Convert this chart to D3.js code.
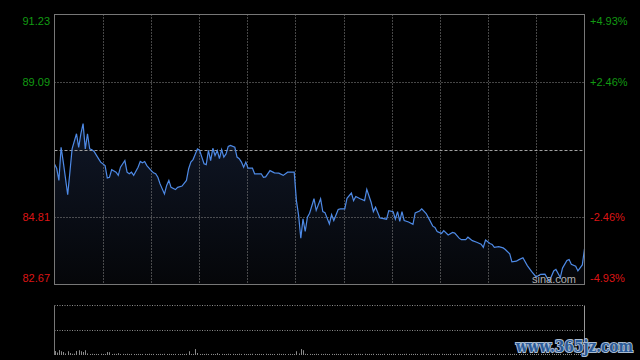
<!DOCTYPE html>
<html><head><meta charset="utf-8">
<script src="https://cdn.jsdelivr.net/npm/d3@7/dist/d3.min.js"></script>
<style>html,body{margin:0;padding:0;background:#000;overflow:hidden}</style>
</head><body><svg id="c" width="640" height="360"></svg>
<script>
// ---- data ----
const priceTicks = [91.23, 89.09, 86.95, 84.81, 82.67];
const pctLabels  = ["+4.93%", "+2.46%", "", "-2.46%", "-4.93%"];
const prevClose  = 86.95;
const totalMinutes = 241;

const minutes = [0,1,2,3,4,6,7,8,10,11,12,13,14,15,16,17,18,20,21,23,24,25,26,28,29,30,32,33,34,35,36,38,39,40,41,42,44,45,46,47,48,50,51,52,53,55,56,58,60,61,62,63,65,66,67,68,69,70,71,72,73,74,75,76,77,78,79,80,82,83,84,85,86,87,88,90,91,94,95,96,98,100,102,104,106,109,
110,111,112,113,114,115,116,118,119,121,122,123,125,126,127,129,130,132,133,135,136,137,139,141,142,144,145,146,148,151,152,154,155,156,157,158,159,161,163,164,166,167,169,170,172,173,174,176,177,179,181,182,184,185,187,188,190,192,194,195,196,198,199,200,202,204,205,207,208,210,211,213,215,217,219,221,223,224,225,227,228,230,231,233,234,235,237,238,240,241];

const prices = [86.49,86.35,85.97,87.02,86.55,85.52,86.23,86.97,87.45,87.02,87.45,87.77,86.97,87.45,86.97,86.94,86.89,86.66,86.55,86.44,86.05,86.07,86.31,86.23,86.13,86.39,86.60,86.23,86.18,86.23,86.13,86.39,86.57,86.53,86.57,86.44,86.28,86.21,86.18,86.07,85.86,85.54,85.81,85.97,85.75,85.68,85.75,85.79,85.97,86.34,86.55,86.63,86.97,86.92,86.71,86.50,86.47,86.92,86.60,86.99,86.76,86.92,86.66,86.95,86.71,86.81,87.05,87.08,87.02,86.71,86.66,86.55,86.39,86.55,86.36,86.36,86.18,86.18,86.07,86.08,86.28,86.21,86.20,86.13,86.23,86.23,
85.33,84.86,84.14,84.75,84.35,84.80,84.93,85.39,85.02,85.39,84.98,84.95,84.59,84.89,84.70,85.05,85.07,85.07,85.40,85.57,85.33,85.46,85.39,85.33,85.69,85.27,84.98,85.12,84.78,84.74,85.01,84.98,84.74,84.98,84.67,84.98,84.70,84.65,84.58,84.94,85.00,85.07,84.92,84.79,84.52,84.48,84.35,84.29,84.38,84.24,84.32,84.30,84.14,84.09,84.09,84.17,84.06,84.01,83.95,83.85,84.08,83.97,83.94,83.85,83.87,83.83,83.78,83.64,83.39,83.41,83.45,83.52,83.27,83.08,82.91,82.99,83.00,82.88,82.77,83.10,83.15,82.89,83.19,83.43,83.46,83.31,83.25,83.10,83.29,83.80];

const volumes = [
400,250,500,380,300,150,380,200,120,130,400,480,380,300,480,150,100,120,100,110,
100,120,100,110,300,280,100,120,110,180,100,110,100,120,100,110,100,100,110,100,
100,110,100,120,100,110,100,100,110,100,120,100,110,100,100,110,100,100,110,100,
120,380,100,110,600,200,100,110,100,120,100,110,100,100,180,100,110,100,100,120,
100,110,100,100,120,100,110,100,100,110,120,100,100,110,100,100,120,100,110,100,
100,110,120,100,110,100,100,110,100,100,380,150,600,480,120,100,110,100,100,120,
100,110,100,120,100,100,110,100,120,100,110,100,100,120,100,110,100,100,120,110,
100,120,100,110,100,120,100,110,100,100,120,100,110,100,120,100,110,100,100,110,
120,100,110,100,120,100,110,100,120,100,110,100,120,100,100,110,120,100,110,100,
120,100,110,100,120,110,100,120,100,110,100,120,100,110,100,120,110,100,120,100,
110,100,120,100,110,100,120,110,100,120,100,110,100,120,110,100,120,100,110,100,
120,110,100,120,100,110,120,100,110,100,120,110,100,120,100,110,120,100,110,100,
120,150];

// ---- drawing ----
const svg = d3.select("#c");
svg.append("rect").attr("width",640).attr("height",360).attr("fill","#000");

const L = 54.5, R = 584.5, T = 14.5, B = 284.5;
const VT = 305.5, VB = 355;
const x = d3.scaleLinear().domain([0,totalMinutes]).range([L,R]);
const y = d3.scaleLinear().domain([priceTicks[4], priceTicks[0]]).range([B,T]);
const gx = d3.scaleLinear().domain([0,11]).range([L,R]);
const vy = d3.scaleLinear().domain([0,5000]).range([VB,VT]);

const defs = svg.append("defs");
const grad = defs.append("linearGradient").attr("id","g").attr("gradientUnits","userSpaceOnUse")
  .attr("x1",0).attr("y1",T).attr("x2",0).attr("y2",B);
grad.append("stop").attr("offset","0%").attr("stop-color","#16223a");
grad.append("stop").attr("offset","100%").attr("stop-color","#050609");

const data = minutes.map((m,i)=>({m, p:prices[i]}));

// area
svg.append("path").datum(data)
  .attr("d", d3.area().x(d=>x(d.m)).y0(y(priceTicks[4])).y1(d=>y(d.p)))
  .attr("fill","url(#g)");

// grid verticals (main)
const gridC = "#8c8c8c";
for (let k=1;k<11;k++){
  svg.append("line").attr("x1",Math.round(gx(k))+0.5).attr("x2",Math.round(gx(k))+0.5)
    .attr("y1",T).attr("y2",B).attr("stroke",gridC).attr("stroke-dasharray","1,2");
}
// horizontals
priceTicks.forEach((v,i)=>{
  if (i===0||i===4) return;
  const yy = Math.round(y(v))+0.5;
  svg.append("line").attr("x1",L).attr("x2",R).attr("y1",yy).attr("y2",yy)
    .attr("stroke", v===prevClose ? "#a0a0a0" : gridC)
    .attr("stroke-dasharray", v===prevClose ? "3,2" : "1,2");
});

// line
svg.append("path").datum(data)
  .attr("d", d3.line().x(d=>x(d.m)).y(d=>y(d.p)))
  .attr("fill","none").attr("stroke","#4e8ae6").attr("stroke-width",1.2);

// main border
svg.append("rect").attr("x",L).attr("y",T).attr("width",R-L).attr("height",B-T)
  .attr("fill","none").attr("stroke","#777");

// labels
const green = "#129a12", red = "#dd1515";
const lblDy = [10, 4, 4, 4, -2.5];
priceTicks.forEach((v,i)=>{
  if (v===prevClose) return;
  const c = v>prevClose ? green : red;
  svg.append("text").attr("x",50).attr("y",y(v)+lblDy[i]).attr("text-anchor","end")
    .attr("font-family","Liberation Sans, Arial, sans-serif").attr("font-size",11)
    .attr("fill",c).text(v.toFixed(2));
  svg.append("text").attr("x",590).attr("y",y(v)+lblDy[i])
    .attr("font-family","Liberation Sans, Arial, sans-serif").attr("font-size",11)
    .attr("fill",c).text(pctLabels[i]);
});

// sina watermark
svg.append("text").attr("x",532).attr("y",283).attr("font-family","Liberation Sans, Arial, sans-serif")
  .attr("font-size",11).attr("fill","#b0b0b0").text("sina.com");

// volume panel
svg.append("line").attr("x1",L).attr("x2",R).attr("y1",VT).attr("y2",VT)
  .attr("stroke",gridC).attr("stroke-dasharray","1,1.5");
svg.append("line").attr("x1",L).attr("x2",R).attr("y1",330.5).attr("y2",330.5)
  .attr("stroke",gridC).attr("stroke-dasharray","1,1.5");
svg.append("line").attr("x1",L).attr("x2",L).attr("y1",VT).attr("y2",VB).attr("stroke","#777");
svg.append("line").attr("x1",R).attr("x2",R).attr("y1",VT).attr("y2",VB).attr("stroke","#999");
svg.append("g").selectAll("line").data(volumes).join("line")
  .attr("x1",(d,i)=>Math.round(x(i))+0.5).attr("x2",(d,i)=>Math.round(x(i))+0.5)
  .attr("y1",VB).attr("y2",d=>vy(d)).attr("stroke","#8a8a8a");

// site watermark
svg.append("text").attr("x",516).attr("y",352).attr("font-family","DejaVu Serif, serif")
  .attr("font-weight","bold").attr("font-size",16).attr("textLength",117)
  .attr("lengthAdjust","spacingAndGlyphs")
  .attr("fill","#2a5a98").attr("stroke","#a9bcd2").attr("stroke-width",2.2)
  .attr("paint-order","stroke").text("www.365jz.com");
</script></body></html>
